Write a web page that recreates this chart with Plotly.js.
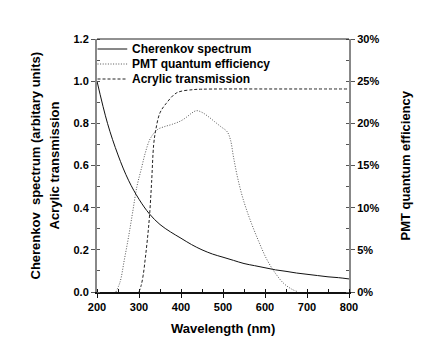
<!DOCTYPE html>
<html>
<head>
<meta charset="utf-8">
<script src="https://cdn.plot.ly/plotly-3.0.1.min.js"></script>
<style>
  html, body { margin: 0; padding: 0; background: #fff; }
  #chart { width: 436px; height: 363px; }
</style>
</head>
<body>
<div id="chart"></div>
<script>
// ===== data =====
const cherWl = [200, 225, 250, 275, 300, 325, 350, 375, 400, 425, 450, 475, 500,
                525, 550, 575, 600, 625, 650, 675, 700, 725, 750, 775, 800];
const cherVal = [1.0, 0.80, 0.65, 0.53, 0.44, 0.37, 0.32, 0.285, 0.255, 0.225, 0.20, 0.18, 0.165,
                 0.15, 0.135, 0.125, 0.115, 0.105, 0.098, 0.09, 0.084, 0.078, 0.072, 0.068, 0.062];

const pmtWl = [245, 255, 265, 275, 285, 295, 305, 315, 325, 335, 345, 360, 380, 400, 415,
               425, 437, 450, 465, 480, 495, 510, 518, 525, 535, 548, 565, 585, 605, 625,
               645, 665, 680];
const pmtQE = [0, 1.2, 3.8, 6.5, 9.5, 12.5, 14.5, 16.5, 18, 18.8, 19.3, 19.6, 19.9, 20.3, 20.8,
               21.2, 21.5, 21.3, 20.8, 20.2, 19.6, 19.0, 18.0, 16.0, 13.5, 11.0, 8.5, 6.0, 3.8, 2.2,
               1.0, 0.3, 0];

const acrWl = [300, 305, 310, 315, 320, 325, 330, 335, 340, 350, 365, 390, 430,
               450, 500, 600, 700, 800];
const acrVal = [0, 0.03, 0.08, 0.16, 0.25, 0.36, 0.52, 0.70, 0.77, 0.85, 0.895, 0.945, 0.96,
                0.962, 0.963, 0.963, 0.963, 0.963];

const seriesNames = ["Cherenkov spectrum", "PMT quantum efficiency", "Acrylic transmission"];

const leftTicks = [0, 0.2, 0.4, 0.6, 0.8, 1.0, 1.2];
const leftTickText = ["0.0", "0.2", "0.4", "0.6", "0.8", "1.0", "1.2"];
const rightTicks = [0, 5, 10, 15, 20, 25, 30];
const rightTickText = ["0%", "5%", "10%", "15%", "20%", "25%", "30%"];
const xTicks = [200, 300, 400, 500, 600, 700, 800];

// ===== style =====
const FAM = "Arial, 'Liberation Sans', sans-serif";
const TICK_FONT = { family: FAM, size: 11, color: "#000", weight: "bold" };
const TITLE_FONT = { family: FAM, size: 13, color: "#000", weight: "bold" };
const LEG_FONT = { family: FAM, size: 12, color: "#000", weight: "bold" };

const styles = [
  { color: "#111", width: 1, dash: "solid" },
  { color: "#555", width: 1, dash: "1px,1.6px" },
  { color: "#222", width: 1, dash: "3px,2px" }
];

const traces = [
  { x: cherWl, y: cherVal, name: seriesNames[0], yaxis: "y", line: { ...styles[0], shape: "spline" } },
  { x: pmtWl, y: pmtQE, name: seriesNames[1], yaxis: "y2", line: { ...styles[1], shape: "spline" } },
  { x: acrWl, y: acrVal, name: seriesNames[2], yaxis: "y", line: { ...styles[2], shape: "spline" } }
].map(t => ({ ...t, type: "scatter", mode: "lines", showlegend: false }));

// handmade legend (plotly legend rows are too tall here)
const legShapes = [];
const legAnn = [];
seriesNames.forEach((n, i) => {
  const yPx = 49 + i * 15;
  const yp = 1 - (yPx - 39) / 253;
  legShapes.push({ type: "line", xref: "paper", yref: "paper", x0: 0.002, x1: 0.12, y0: yp, y1: yp,
                   line: { color: styles[i].color, width: 1, dash: styles[i].dash } });
  legAnn.push({ xref: "paper", yref: "paper", x: 0.132, y: yp, xanchor: "left", yanchor: "middle",
                text: n, showarrow: false, font: LEG_FONT });
});

const titleAnn = [
  { x: 0, y: 0.5, xshift: -62, textangle: -90, text: "Cherenkov  spectrum (arbitary units)" },
  { x: 0, y: 0.5, xshift: -43, textangle: -90, text: "Acrylic transmission" },
  { x: 1, y: 0.5, xshift: 56, textangle: -90, text: "PMT quantum efficiency" },
  { x: 0.5, y: 0, yshift: -36, text: "Wavelength (nm)" }
].map(a => ({ ...a, xref: "paper", yref: "paper", xanchor: "center", yanchor: "middle",
              showarrow: false, font: TITLE_FONT }));

const layout = {
  width: 436, height: 363,
  margin: { l: 97, r: 87, t: 39, b: 71 },
  paper_bgcolor: "#fff", plot_bgcolor: "#fff",
  font: TICK_FONT,
  showlegend: false,
  xaxis: {
    range: [200, 800], tickvals: xTicks, showgrid: false, zeroline: false,
    showline: true, linecolor: "#111", linewidth: 1.5,
    ticks: "outside", ticklen: 4, tickcolor: "#111", tickwidth: 1,
    minor: { dtick: 50, ticks: "inside", ticklen: 3, tickcolor: "#111", showgrid: false },
    tickfont: TICK_FONT
  },
  yaxis: {
    range: [0, 1.2], tickvals: leftTicks, ticktext: leftTickText, showgrid: false, zeroline: false,
    showline: true, linecolor: "#888", linewidth: 2,
    ticks: "outside", ticklen: 4, tickcolor: "#555", tickwidth: 1,
    minor: { dtick: 0.1, ticks: "inside", ticklen: 3, tickcolor: "#555", showgrid: false },
    tickfont: TICK_FONT
  },
  yaxis2: {
    overlaying: "y", side: "right", range: [0, 30], tickvals: rightTicks, ticktext: rightTickText,
    showgrid: false, zeroline: false,
    showline: true, linecolor: "#888", linewidth: 2,
    ticks: "outside", ticklen: 4, tickcolor: "#555", tickwidth: 1,
    minor: { dtick: 2.5, ticks: "inside", ticklen: 3, tickcolor: "#555", showgrid: false },
    tickfont: TICK_FONT
  },
  shapes: [
    { type: "line", xref: "paper", yref: "paper", x0: 0, x1: 1, y0: 1, y1: 1,
      line: { color: "#222", width: 1 } }
  ].concat(legShapes),
  annotations: titleAnn.concat(legAnn)
};

Plotly.newPlot("chart", traces, layout, { displayModeBar: false, staticPlot: true });
</script>
</body>
</html>
